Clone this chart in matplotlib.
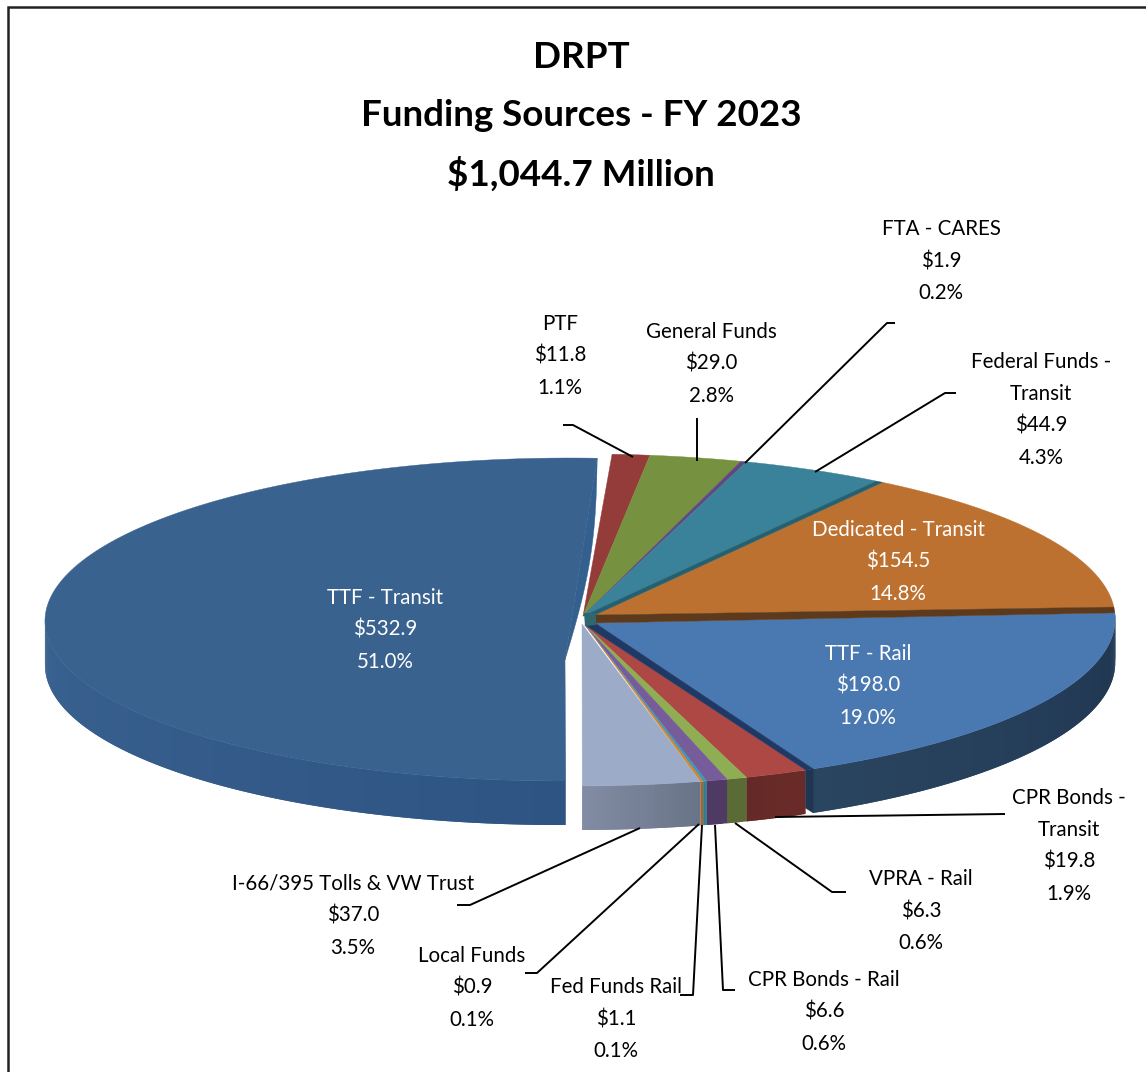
import numpy as np
import matplotlib
matplotlib.use('Agg')
import matplotlib.pyplot as plt
from matplotlib.colors import to_rgb

plt.rcParams['font.family'] = ['Lato', 'DejaVu Sans']

# Data
names = ['PTF', 'General Funds', 'FTA - CARES', 'Federal Funds -\nTransit', 'Dedicated - Transit',
         'TTF - Rail', 'CPR Bonds -\nTransit', 'VPRA - Rail', 'CPR Bonds - Rail', 'Fed Funds Rail',
         'Local Funds', 'I-66/395 Tolls & VW Trust', 'TTF - Transit']
values = [11.8, 29.0, 1.9, 44.9, 154.5, 198.0, 19.8, 6.3, 6.6, 1.1, 0.9, 37.0, 532.9]
title_lines = ['DRPT', 'Funding Sources - FY 2023', '$1,044.7 Million']

# Styles
top_colors = ['#943C39', '#76913F', '#5F4A7F', '#39829A', '#BC7130', '#4A78B0', '#AE4844',
              '#8FAD52', '#775C9B', '#3C9AB2', '#D9822F', '#9BABC8', '#39628E']
side_colors = [('#6E2C2A', '#6E2C2A'), ('#5A6E30', '#5A6E30'), ('#46365E', '#46365E'),
               ('#2A6172', '#2A6172'), ('#7A4A20', '#7A4A20'), ('#1F3550', '#2A4560'),
               ('#6A2B28', '#642A27'), ('#5A6B35', '#5A6B35'), ('#4E3A62', '#4E3A62'),
               ('#2E7F93', '#2E7F93'), ('#A8652A', '#A8652A'), ('#6A7488', '#828DA5'),
               ('#2E5483', '#3A6290')]

# Layout, in pixels of the picture
cx, cy, rx, ry, shear = 580.2, 620, 535, 166, 3.9
tx, ty, trx, try_, tshear = 565, 619.5, 520, 161.5, 5
depth = 44
start_angle = 3.0
apexes = [(583, 616), (583, 616), (583, 616), (583, 616), (595, 615), (595, 623), (585, 625),
          (585, 625), (585, 625), (585, 625), (585, 625), (582, 624), (565, 660)]
# trim of each top face in degrees (start, end) where a dark cut face shows next to it
trims = {4: (0.8, -0.9), 5: (1.1, -0.9)}
gap_colors = {3: '#24606F', 4: '#5E3A1C', 5: '#1F3864'}

label_pos = [(560, 324), (711, 332), (941, 229), (1041, 362), (898, 530), (868, 654), (1069, 798),
             (921, 879), (824, 980), (616, 987), (472, 956), (353, 884), (385, 598)]
label_white = [4, 5, 12]
leaders = [[(563, 425), (573, 425), (633, 457)],
           [(697, 418), (697, 461)],
           [(895, 323), (887, 323), (745, 463)],
           [(956, 393), (945, 393), (815, 472)],
           [(1005, 814), (775, 817)],
           [(846, 892), (832, 892), (735, 823)],
           [(735, 990), (723, 990), (715, 825)],
           [(680, 995), (693, 995), (702, 825)],
           [(525, 973), (537, 973), (699, 824)],
           [(457, 905), (470, 905), (640, 828)]]


def rim(th, x0=cx, y0=cy, a=rx, b=ry, s=shear):
    t = np.radians(th)
    return x0 + a * np.sin(t) + s * np.cos(t), y0 - b * np.cos(t)


def blend(c0, c1, f):
    return tuple((1 - f) * np.array(to_rgb(c0)) + f * np.array(to_rgb(c1)))


def draw_side(th0, th1, colors, geom, z):
    # curved outer wall, strips overlap the next one so no seams show
    edges = np.arange(th0, th1 + 0.5, 0.5)
    edges[-1] = th1
    for i in range(len(edges) - 1):
        end = edges[min(i + 2, len(edges) - 1)]
        ts = np.linspace(edges[i], end, 4)
        x, y = rim(ts, *geom)
        f = i / max(len(edges) - 2, 1)
        c = blend(colors[0], colors[1], f)
        ax.fill(np.r_[x, x[::-1]], np.r_[y, y[::-1] + depth], color=c, lw=0, zorder=z)


def top_face(idx, th0, th1, geom):
    ts = np.linspace(th0, th1, max(int(th1 - th0) * 2, 3))
    x, y = rim(ts, *geom)
    return np.r_[apexes[idx][0], x], np.r_[apexes[idx][1], y]


fig = plt.figure(figsize=(11.46, 10.72), dpi=100)
ax = fig.add_axes([0, 0, 1, 1])
ax.set_xlim(0, 1146)
ax.set_ylim(1072, 0)
ax.axis('off')

# frame
ax.plot([8, 8, 1146], [1072, 7, 7], color='#222222', lw=1.8, zorder=1, solid_joinstyle='miter')

total = sum(values)
angles = start_angle + np.r_[0, np.cumsum(values)] / total * 360
main_geom = (cx, cy, rx, ry, shear)
transit_geom = (tx, ty, trx, try_, tshear)

# outer walls
for i in range(5, 12):
    th0, th1 = angles[i], angles[i + 1]
    if i == 5:
        th0, th1 = th0 + trims[5][0], th1 + trims[5][1]
    draw_side(th0, th1, side_colors[i], main_geom, 3)
draw_side(angles[12], 270, side_colors[12], transit_geom, 3)

# dark end of the rail slice, facing the red slice
rx0, ry0 = rim(angles[6] + trims[5][1])
rx1, ry1 = rim(angles[6])
ax.fill([rx0, rx1, rx1, rx0], [ry0, ry1, ry1 + depth - 6, ry0 + depth], color='#1F3550', lw=0.4, zorder=4)

# top faces
for i in range(13):
    geom = transit_geom if i == 12 else main_geom
    a0, a1 = trims.get(i, (0, 0))
    x, y = top_face(i, angles[i] + a0, angles[i + 1] + a1, geom)
    ax.fill(x, y, color=top_colors[i], lw=0.3, zorder=5)

# thin cut faces showing between slices
for i, col in gap_colors.items():
    a0 = angles[i + 1] + trims.get(i, (0, 0))[1]
    a1 = angles[i + 1] + trims.get(i + 1, (0, 0))[0]
    p0 = rim(a0)
    p1 = rim(a1)
    ax.fill([apexes[i][0], p0[0], p1[0], apexes[i + 1][0]],
            [apexes[i][1], p0[1], p1[1], apexes[i + 1][1]], color=col, lw=0.3, zorder=6)

# dark bit around the middle
ax.fill([584, 596, 596, 585], [613, 613, 625, 626], color='#2F6670', lw=0, zorder=6)

# cut face of the pulled out slice, slightly bowed from rim to tip
p = rim(start_angle, *transit_geom)
tip = apexes[12]
u = np.linspace(0, 1, 30)
bx = p[0] + (tip[0] - p[0]) * u + 9 * np.sin(np.pi * u)
by = p[1] + (tip[1] - p[1]) * u
ax.fill(bx, by, color='#34608F', lw=0.3, zorder=6)

# leader lines
for pts in leaders:
    xs, ys = zip(*pts)
    ax.plot(xs, ys, color='black', lw=1.4, zorder=7, solid_capstyle='butt')

# labels
step = 32
for i, name in enumerate(names):
    pct = 100 * values[i] / total
    lines = name.split('\n') + ['${:.1f}'.format(values[i]), '{:.1f}%'.format(pct)]
    col = 'white' if i in label_white else 'black'
    for k, line in enumerate(lines):
        ax.text(label_pos[i][0], label_pos[i][1] + k * step, line, color=col, fontsize=14.8,
                ha='center', va='center', zorder=8)

for k, line in enumerate(title_lines):
    ax.text(581, 58 + k * 58, line, fontsize=26.5, fontweight='bold', ha='center', va='center', zorder=8)

fig.savefig('out.png', dpi=100)
